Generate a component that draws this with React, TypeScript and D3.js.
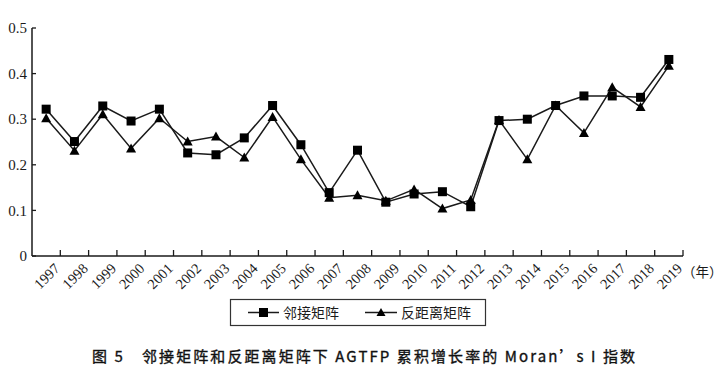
import React from "react";
import * as d3 from "d3";

const years = ["1997","1998","1999","2000","2001","2002","2003","2004","2005","2006","2007","2008","2009","2010","2011","2012","2013","2014","2015","2016","2017","2018","2019"];
const adjacency = [0.322,0.251,0.329,0.296,0.322,0.226,0.222,0.259,0.330,0.244,0.139,0.232,0.118,0.136,0.141,0.108,0.297,0.300,0.330,0.351,0.351,0.348,0.431];
const inverseDistance = [0.302,0.231,0.311,0.236,0.302,0.251,0.262,0.216,0.305,0.212,0.128,0.133,0.121,0.146,0.104,0.123,0.298,0.212,0.330,0.270,0.370,0.327,0.417];
const yTicks = [0, 0.1, 0.2, 0.3, 0.4, 0.5];
const seriesNames = ["邻接矩阵", "反距离矩阵"];
const title = "图 5　邻接矩阵和反距离矩阵下 AGTFP 累积增长率的 Moran’s I 指数";

const W = 726, H = 380;
const left = 32, right = 683, top = 28, bottom = 256;
const ink = "#1a1a1a";
const serif = "'Liberation Serif', 'DejaVu Serif', serif";
const cjk = "'Noto Sans CJK SC', sans-serif";

export default function App() {
  const x = d3.scaleBand<string>().domain(years).range([left, right]);
  const y = d3.scaleLinear().domain([0, 0.5]).range([bottom, top]);
  const cx = (i: number) => (x(years[i]) as number) + x.bandwidth() / 2;
  const line = d3.line<number>().x((_, i) => cx(i)).y((d) => y(d));
  const boundaries = years.map((yr) => (x(yr) as number) + x.bandwidth());
  const tri = (px: number, py: number, s = 5) => `M${px},${py - s}L${px + s},${py + s * 0.8}L${px - s},${py + s * 0.8}Z`;

  return (
    <svg width={W} height={H} style={{ position: "absolute", left: 0, top: 0, background: "#fff" }}>
      <rect width={W} height={H} fill="#fff" />
      {/* axes */}
      <line x1={left} x2={left} y1={top} y2={bottom} stroke={ink} strokeWidth={1.5} />
      <line x1={left} x2={right} y1={bottom} y2={bottom} stroke={ink} strokeWidth={1.5} />
      {yTicks.map((t) => (
        <g key={t}>
          <line x1={left} x2={left + 4} y1={y(t)} y2={y(t)} stroke={ink} strokeWidth={1.3} />
          <text x={left - 5} y={y(t)} dy="0.35em" textAnchor="end" fontFamily={serif} fontSize={15} fill={ink}>{t === 0 ? "0" : t.toFixed(1)}</text>
        </g>
      ))}
      {boundaries.map((b, i) => (
        <line key={i} x1={b} x2={b} y1={bottom} y2={bottom - 6} stroke={ink} strokeWidth={1.3} />
      ))}
      {years.map((yr, i) => (
        <text key={yr} transform={`translate(${cx(i) + 7},${bottom + 6}) rotate(-45)`} textAnchor="end" dy="0.72em" fontFamily={serif} fontSize={14.5} fill={ink}>{yr}</text>
      ))}
      <text x={682} y={277} fontFamily={cjk} fontSize={13.5} fill={ink}>（年）</text>
      {/* lines */}
      <path d={line(adjacency) || ""} fill="none" stroke={ink} strokeWidth={1.5} />
      <path d={line(inverseDistance) || ""} fill="none" stroke={ink} strokeWidth={1.5} />
      {inverseDistance.map((v, i) => (
        <path key={"t" + i} d={tri(cx(i), y(v))} fill="#000" />
      ))}
      {adjacency.map((v, i) => (
        <rect key={"s" + i} x={cx(i) - 4.5} y={y(v) - 4.5} width={9} height={9} fill="#000" />
      ))}
      {/* legend */}
      <rect x={230.5} y={299.5} width={255} height={26} fill="#fff" stroke="#333" strokeWidth={1.2} />
      <line x1={248} x2={279} y1={312.5} y2={312.5} stroke={ink} strokeWidth={1.5} />
      <rect x={259} y={308} width={9} height={9} fill="#000" />
      <text x={283} y={312.5} dy="0.36em" fontFamily={cjk} fontSize={14} fill={ink}>{seriesNames[0]}</text>
      <line x1={365} x2={397} y1={312.5} y2={312.5} stroke={ink} strokeWidth={1.5} />
      <path d={tri(381, 312.5, 4.5)} fill="#000" />
      <text x={401} y={312.5} dy="0.36em" fontFamily={cjk} fontSize={14} fill={ink}>{seriesNames[1]}</text>
      {/* title */}
      <text x={92} y={357} dy="0.36em" fontFamily={cjk} fontSize={15} fontWeight={400} fill="#111" stroke="#111" strokeWidth={0.35} textLength={543} lengthAdjust="spacing">{title}</text>
    </svg>
  );
}
